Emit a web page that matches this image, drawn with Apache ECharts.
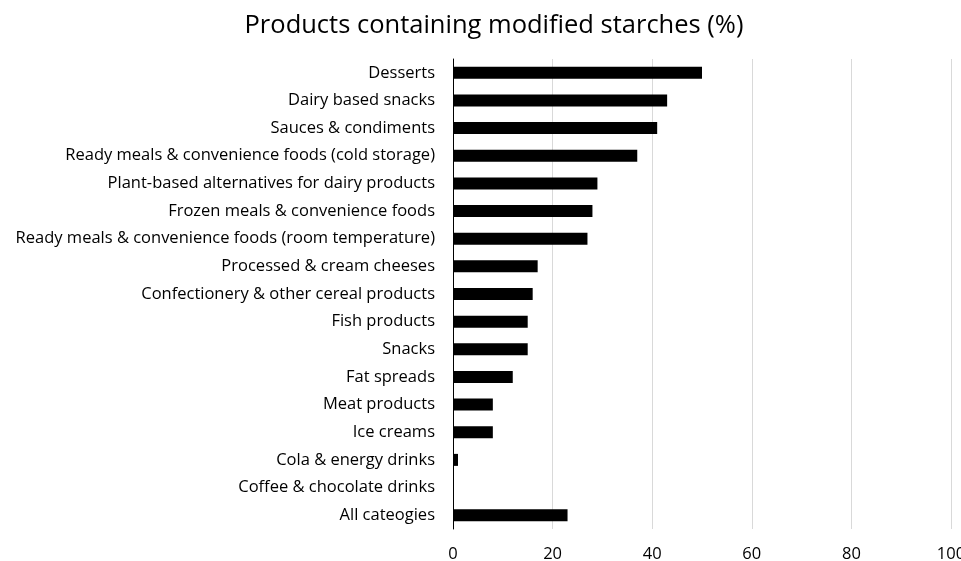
<!DOCTYPE html>
<html>
<head>
<meta charset="utf-8">
<script src="https://cdn.jsdelivr.net/npm/echarts@6/dist/echarts.min.js"></script>
<style>html,body{margin:0;padding:0;background:#fff}#c{width:961px;height:561px}</style>
</head>
<body>
<div id="c"></div>
<script>
const categories = [
  "Desserts",
  "Dairy based snacks",
  "Sauces & condiments",
  "Ready meals & convenience foods (cold storage)",
  "Plant-based alternatives for dairy products",
  "Frozen meals & convenience foods",
  "Ready meals & convenience foods (room temperature)",
  "Processed & cream cheeses",
  "Confectionery & other cereal products",
  "Fish products",
  "Snacks",
  "Fat spreads",
  "Meat products",
  "Ice creams",
  "Cola & energy drinks",
  "Coffee & chocolate drinks",
  "All cateogies"
];
const values = [50, 43, 41, 37, 29, 28, 27, 17, 16, 15, 15, 12, 8, 8, 1, 0, 23];
const titleText = "Products containing modified starches (%)";
const xTicks = [0, 20, 40, 60, 80, 100];

const chart = echarts.init(document.getElementById('c'), null, {renderer: 'canvas'});
const font = "'Open Sans', 'Noto Sans', sans-serif";
chart.setOption({
  animation: false,
  title: {
    text: titleText,
    left: 489, top: 8, textAlign: 'center',
    textStyle: {fontFamily: font, fontSize: 25.5, fontWeight: 'normal', color: '#000'}
  },
  grid: {left: 453, right: 10, top: 59, bottom: 32, containLabel: false, outerBoundsMode: 'none'},
  xAxis: {
    type: 'value', min: 0, max: 100, interval: 20,
    axisLine: {show: false}, axisTick: {show: false},
    splitLine: {show: true, lineStyle: {color: '#d9d9d9', width: 1}},
    axisLabel: {fontFamily: font, fontSize: 16.5, color: '#000', margin: 17,
      formatter: v => xTicks.includes(v) ? String(v) : ''}
  },
  yAxis: {
    type: 'category', data: categories, inverse: true,
    axisLine: {show: true, lineStyle: {color: '#000', width: 1}},
    axisTick: {show: false},
    axisLabel: {fontFamily: font, fontSize: 16.5, color: '#000', margin: 18}
  },
  series: [{
    type: 'bar', data: values, barWidth: 12,
    itemStyle: {color: '#000'}
  }]
});
</script>
</body>
</html>
